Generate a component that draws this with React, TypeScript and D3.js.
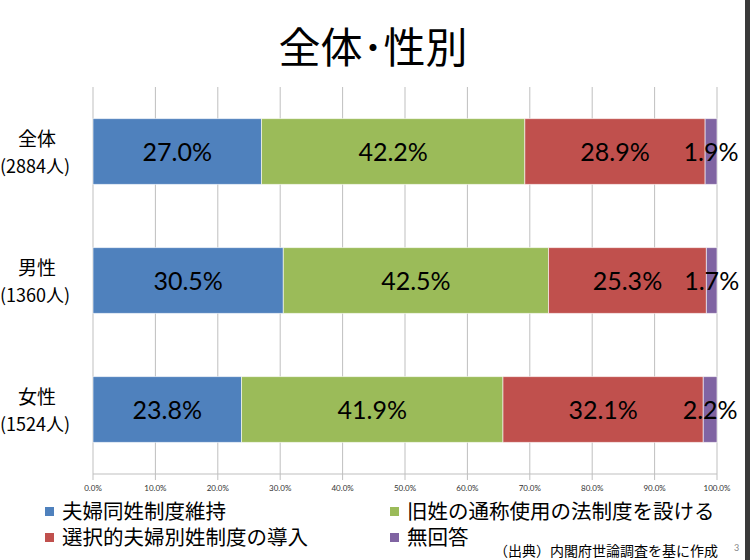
import React from "react";
import * as d3 from "d3";

const categories = ["全体", "男性", "女性"];
const counts = ["(2884人)", "(1360人)", "(1524人)"];
const seriesNames = ["夫婦同姓制度維持", "旧姓の通称使用の法制度を設ける", "選択的夫婦別姓制度の導入", "無回答"];
const seriesColors = ["#4f81bd", "#9bbb59", "#c0504d", "#8064a2"];
const values = [
  [27.0, 42.2, 28.9, 1.9],
  [30.5, 42.5, 25.3, 1.7],
  [23.8, 41.9, 32.1, 2.2],
];
const ticks = [0, 10, 20, 30, 40, 50, 60, 70, 80, 90, 100];

const JP = "'Noto Sans CJK JP', 'Noto Sans', sans-serif";
const NUM = "Lato, 'Noto Sans', sans-serif";

export default function App() {
  const W = 750, H = 560;
  const x = d3.scaleLinear().domain([0, 100]).range([93, 717]);
  const y = d3.scaleBand().domain(categories).range([87, 474]).paddingInner(0.49).paddingOuter(0.245);
  const axisY = 474;

  return (
    <svg width={W} height={H} style={{ position: "absolute", left: 0, top: 0, background: "#fff" }}>
      <rect x={0} y={0} width={W} height={H} fill="#fff" />
      <text x={373} y={63} textAnchor="middle" fontSize={42} fontFamily={JP} fill="#000">全体･性別</text>
      {ticks.map((t) => (
        <line key={t} x1={x(t)} x2={x(t)} y1={87} y2={axisY + 6} stroke="#bfbfbf" strokeWidth={1} />
      ))}
      <line x1={x(0)} x2={x(100)} y1={axisY} y2={axisY} stroke="#bfbfbf" />
      {ticks.map((t) => (
        <text key={t} x={x(t)} y={491} textAnchor="middle" fontSize={8} fontFamily={NUM} fill="#333">{t.toFixed(1)}%</text>
      ))}
      {categories.map((c, i) => {
        const row = values[i];
        let acc = 0;
        const by = y(c)!;
        const bh = y.bandwidth();
        return (
          <g key={c}>
            <text x={37} y={by + 27} textAnchor="middle" fontSize={19} fontFamily={JP} fill="#000">{c}</text>
            <text x={35} y={by + 54} textAnchor="middle" fontSize={18} fontFamily={JP} fill="#000">{counts[i]}</text>
            {row.map((v, j) => {
              const x0 = x(acc);
              acc += v;
              const x1 = x(acc);
              return (
                <rect key={j} x={x0} y={by} width={x1 - x0} height={bh} fill={seriesColors[j]} stroke="#fff" strokeOpacity={0.6} strokeWidth={1} />
              );
            })}
            {(() => {
              let a = 0;
              return row.map((v, j) => {
                const cx = (x(a) + x(a + v)) / 2;
                a += v;
                return (
                  <text key={j} x={cx} y={by + bh / 2 + 9} textAnchor="middle" fontSize={25} fontFamily={NUM} fill="#000">{v.toFixed(1)}%</text>
                );
              });
            })()}
          </g>
        );
      })}
      {seriesNames.map((s, j) => {
        const col = j % 2;
        const rowI = Math.floor(j / 2);
        const lx = col === 0 ? 45 : 390;
        const ly = 519 + rowI * 26;
        return (
          <g key={s}>
            <rect x={lx} y={ly - 12} width={9} height={9} fill={seriesColors[j]} />
            <text x={lx + 17} y={ly} fontSize={20.5} fontFamily={JP} fill="#000">{s}</text>
          </g>
        );
      })}
      <text x={718} y={556} textAnchor="end" fontSize={14} fontFamily={JP} fill="#000">（出典）内閣府世論調査を基に作成</text>
      <text x={734} y={551} fontSize={9} fontFamily={NUM} fill="#888">3</text>
      <rect x={745} y={0} width={5} height={H} fill="#3a3a3a" />
    </svg>
  );
}
